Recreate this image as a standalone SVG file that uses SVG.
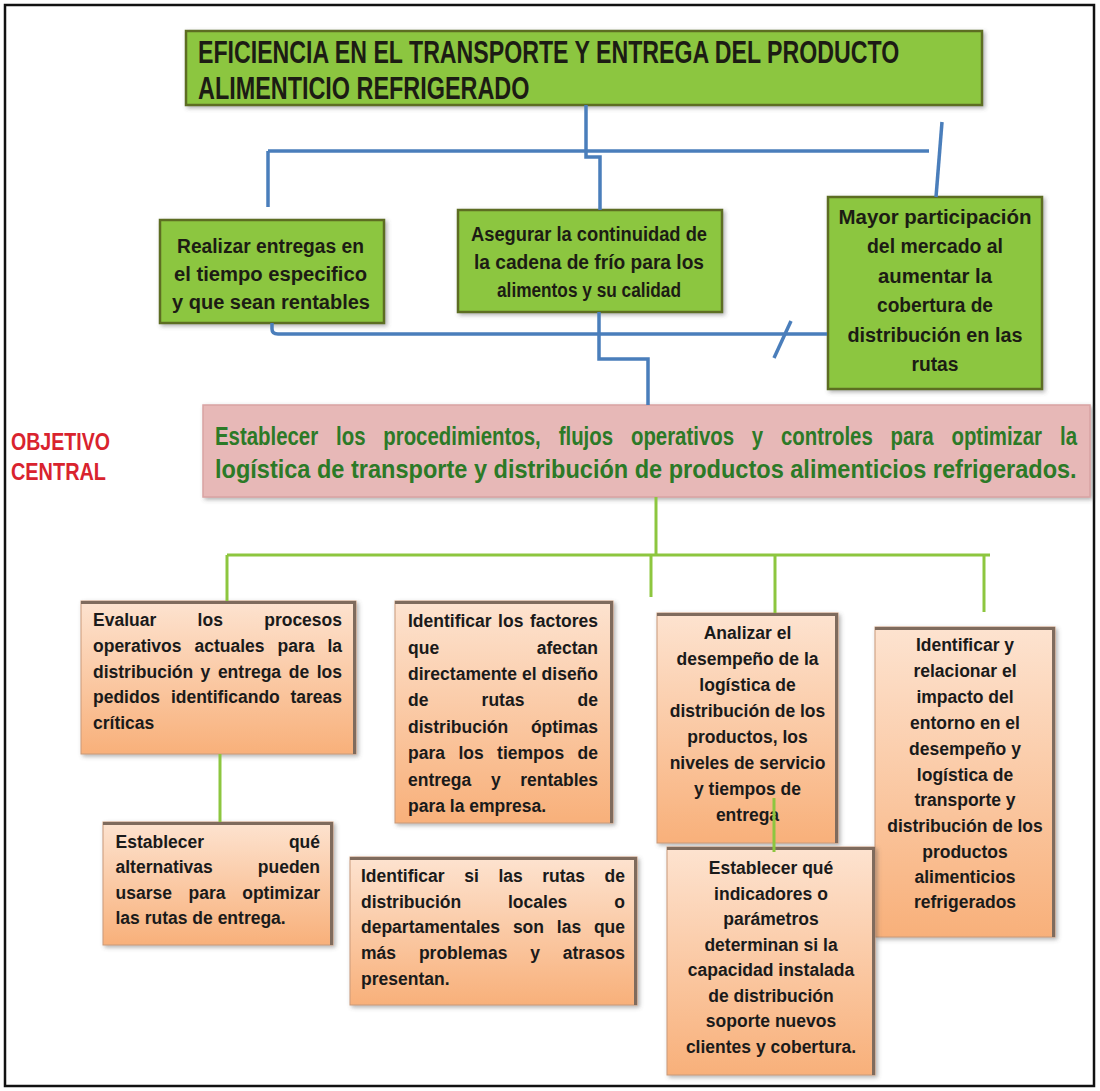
<svg xmlns="http://www.w3.org/2000/svg" width="1100" height="1091" viewBox="0 0 1100 1091">
  <style>
    .frame { fill: #ffffff; stroke: #111111; stroke-width: 2.5; }
    .gbox { fill: #8cc63f; stroke: #5d6d22; stroke-width: 2.5; }
    .pbox { fill: #e7b8b7; stroke: #d9a3a3; stroke-width: 1.5; }
    .obox { fill: url(#orangeFill); stroke: #c99a7a; stroke-width: 1; }
    .bevel { fill: none; stroke: #7f6b5d; stroke-width: 3; }
    .blue { fill: none; stroke: #4a7ebb; stroke-width: 3.5; stroke-linejoin: miter; }
    .green { fill: none; stroke: #8dc63f; stroke-width: 3; }
    .t-top { font-family: "Liberation Sans", Arial, sans-serif; font-weight: bold; font-size: 31px; fill: #1c1c14; }
    .t-g { font-family: "Liberation Sans", Arial, sans-serif; font-weight: bold; font-size: 20px; fill: #1c1c14; }
    .t-pink { font-family: "Liberation Sans", Arial, sans-serif; font-weight: bold; font-size: 25px; fill: #2c7a27; }
    .t-red { font-family: "Liberation Sans", Arial, sans-serif; font-weight: bold; font-size: 23px; fill: #d9232e; }
    .t-o { font-family: "Liberation Sans", Arial, sans-serif; font-weight: bold; font-size: 17.5px; fill: #1a1a1a; }
    .mid { text-anchor: middle; }
  </style>
  <defs>
    <linearGradient id="orangeFill" x1="0" y1="0" x2="0" y2="1">
      <stop offset="0" stop-color="#fde3d0"/>
      <stop offset="1" stop-color="#f8b07a"/>
    </linearGradient>
    <filter id="shadow" x="-5%" y="-5%" width="112%" height="115%">
      <feDropShadow dx="2" dy="2" stdDeviation="2" flood-color="#555555" flood-opacity="0.45"/>
    </filter>
  </defs>

  <!-- page frame -->
  <rect class="frame" x="5" y="5" width="1089" height="1081"/>

  <!-- headline, set in a horizontally condensed face -->
  <g id="n-top">
    <rect class="gbox" x="186" y="31" width="796" height="74" filter="url(#shadow)"/>
    <text class="t-top" transform="translate(198,63) scale(0.747,1)" x="0" y="0">EFICIENCIA EN EL TRANSPORTE Y ENTREGA DEL PRODUCTO</text>
    <text class="t-top" transform="translate(198,99) scale(0.755,1)" x="0" y="0">ALIMENTICIO REFRIGERADO</text>
  </g>

  <!-- green goals -->
  <g id="n-goal-left">
    <rect class="gbox" x="160" y="220" width="224" height="103" filter="url(#shadow)"/>
    <text class="t-g" x="177" y="253" textLength="187" lengthAdjust="spacingAndGlyphs">Realizar entregas en</text>
    <text class="t-g" x="174" y="281" textLength="193" lengthAdjust="spacingAndGlyphs">el tiempo especifico</text>
    <text class="t-g" x="172" y="309" textLength="198" lengthAdjust="spacingAndGlyphs">y que sean rentables</text>
  </g>
  <g id="n-goal-mid">
    <rect class="gbox" x="458" y="210" width="264" height="102" filter="url(#shadow)"/>
    <text class="t-g" x="471" y="241" textLength="236" lengthAdjust="spacingAndGlyphs">Asegurar la continuidad de</text>
    <text class="t-g" x="474" y="269" textLength="230" lengthAdjust="spacingAndGlyphs">la cadena de frío para los</text>
    <text class="t-g" x="497" y="297" textLength="184" lengthAdjust="spacingAndGlyphs">alimentos y su calidad</text>
  </g>
  <g id="n-goal-right">
    <rect class="gbox" x="828" y="197" width="214" height="192" filter="url(#shadow)"/>
    <text class="t-g" x="838.5" y="224" textLength="193" lengthAdjust="spacingAndGlyphs">Mayor participación</text>
    <text class="t-g" x="867" y="253" textLength="136" lengthAdjust="spacingAndGlyphs">del mercado al</text>
    <text class="t-g" x="878" y="283" textLength="114" lengthAdjust="spacingAndGlyphs">aumentar la</text>
    <text class="t-g" x="877" y="312" textLength="116" lengthAdjust="spacingAndGlyphs">cobertura de</text>
    <text class="t-g" x="847.5" y="342" textLength="175" lengthAdjust="spacingAndGlyphs">distribución en las</text>
    <text class="t-g" x="911.5" y="371" textLength="47" lengthAdjust="spacingAndGlyphs">rutas</text>
  </g>

  <!-- central objective -->
  <g id="n-central">
    <text class="t-red" x="11" y="450" textLength="99" lengthAdjust="spacingAndGlyphs">OBJETIVO</text>
    <text class="t-red" x="11" y="480" textLength="95" lengthAdjust="spacingAndGlyphs">CENTRAL</text>
    <rect class="pbox" x="203" y="405" width="887" height="92" filter="url(#shadow)"/>
    <!-- justified first line: word starts are given in the condensed (x / 0.816) space -->
    <text class="t-pink" transform="scale(0.816,1)" y="445"><tspan x="263.5">Establecer</tspan> <tspan x="411.8">los</tspan> <tspan x="469.7">procedimientos,</tspan> <tspan x="684.7">flujos</tspan> <tspan x="773.2">operativos</tspan> <tspan x="921.4">y</tspan> <tspan x="957.1">controles</tspan> <tspan x="1091.4">para</tspan> <tspan x="1166">optimizar</tspan> <tspan x="1299">la</tspan></text>
    <text class="t-pink" transform="translate(215,478) scale(0.942,1)" x="0" y="0">logística de transporte y distribución de productos alimenticios refrigerados.</text>
  </g>

  <!-- specific objectives -->
  <g id="n-eval">
    <rect class="obox" x="81" y="601" width="275" height="153" filter="url(#shadow)"/>
    <path class="bevel" d="M81,602.5 H354.5 V754"/>
    <text class="t-o" y="626"><tspan x="93">Evaluar</tspan> <tspan x="197.6">los</tspan> <tspan x="264.2">procesos</tspan></text>
    <text class="t-o" y="652"><tspan x="93">operativos</tspan> <tspan x="194.5">actuales</tspan> <tspan x="277.5">para</tspan> <tspan x="327.4">la</tspan></text>
    <text class="t-o" y="678"><tspan x="93">distribución</tspan> <tspan x="200.6">y</tspan> <tspan x="217.9">entrega</tspan> <tspan x="288.7">de</tspan> <tspan x="316.7">los</tspan></text>
    <text class="t-o" y="703"><tspan x="93">pedidos</tspan> <tspan x="170.9">identificando</tspan> <tspan x="290.4">tareas</tspan></text>
    <text class="t-o" x="93" y="729">críticas</text>
  </g>

  <g id="n-factores">
    <rect class="obox" x="395" y="601" width="218" height="222" filter="url(#shadow)"/>
    <path class="bevel" d="M395,602.5 H611.5 V823"/>
    <text class="t-o" y="627"><tspan x="408">Identificar</tspan> <tspan x="498.1">los</tspan> <tspan x="529.9">factores</tspan></text>
    <text class="t-o" y="654"><tspan x="408">que</tspan> <tspan x="536.7">afectan</tspan></text>
    <text class="t-o" y="680"><tspan x="408">directamente</tspan> <tspan x="522">el</tspan> <tspan x="541.6">diseño</tspan></text>
    <text class="t-o" y="706"><tspan x="408">de</tspan> <tspan x="481.6">rutas</tspan> <tspan x="577.6">de</tspan></text>
    <text class="t-o" y="733"><tspan x="408">distribución</tspan> <tspan x="530.9">óptimas</tspan></text>
    <text class="t-o" y="759"><tspan x="408">para</tspan> <tspan x="458.4">los</tspan> <tspan x="497.1">tiempos</tspan> <tspan x="577.6">de</tspan></text>
    <text class="t-o" y="786"><tspan x="408">entrega</tspan> <tspan x="490.9">y</tspan> <tspan x="520.2">rentables</tspan></text>
    <text class="t-o" x="408" y="812">para la empresa.</text>
  </g>

  <g id="n-analizar">
    <rect class="obox" x="657" y="613" width="181" height="230" filter="url(#shadow)"/>
    <path class="bevel" d="M657,614.5 H836.5 V843"/>
    <text class="t-o mid" x="747.5" y="639">Analizar el</text>
    <text class="t-o mid" x="747.5" y="665">desempeño de la</text>
    <text class="t-o mid" x="747.5" y="691">logística de</text>
    <text class="t-o mid" x="747.5" y="717">distribución de los</text>
    <text class="t-o mid" x="747.5" y="743">productos, los</text>
    <text class="t-o mid" x="747.5" y="769">niveles de servicio</text>
    <text class="t-o mid" x="747.5" y="795">y tiempos de</text>
    <text class="t-o mid" x="747.5" y="821">entrega</text>
  </g>

  <g id="n-entorno">
    <rect class="obox" x="875" y="627" width="180" height="310" filter="url(#shadow)"/>
    <path class="bevel" d="M875,628.5 H1053.5 V937"/>
    <text class="t-o mid" x="965" y="651">Identificar y</text>
    <text class="t-o mid" x="965" y="677">relacionar el</text>
    <text class="t-o mid" x="965" y="703">impacto del</text>
    <text class="t-o mid" x="965" y="729">entorno en el</text>
    <text class="t-o mid" x="965" y="755">desempeño y</text>
    <text class="t-o mid" x="965" y="781">logística de</text>
    <text class="t-o mid" x="965" y="806">transporte y</text>
    <text class="t-o mid" x="965" y="832">distribución de los</text>
    <text class="t-o mid" x="965" y="858">productos</text>
    <text class="t-o mid" x="965" y="883">alimenticios</text>
    <text class="t-o mid" x="965" y="908">refrigerados</text>
  </g>

  <g id="n-alternativas">
    <rect class="obox" x="103" y="822" width="230" height="123" filter="url(#shadow)"/>
    <path class="bevel" d="M103,823.5 H331.5 V945"/>
    <text class="t-o" y="848"><tspan x="115.5">Establecer</tspan> <tspan x="288.9">qué</tspan></text>
    <text class="t-o" y="873"><tspan x="115.5">alternativas</tspan> <tspan x="257.8">pueden</tspan></text>
    <text class="t-o" y="899"><tspan x="115.5">usarse</tspan> <tspan x="188.5">para</tspan> <tspan x="242.2">optimizar</tspan></text>
    <text class="t-o" x="115.5" y="924">las rutas de entrega.</text>
  </g>

  <g id="n-rutas">
    <rect class="obox" x="350" y="857" width="287" height="148" filter="url(#shadow)"/>
    <path class="bevel" d="M350,858.5 H635.5 V1005"/>
    <text class="t-o" y="882"><tspan x="361">Identificar</tspan> <tspan x="464.2">si</tspan> <tspan x="498.4">las</tspan> <tspan x="542.3">rutas</tspan> <tspan x="604.6">de</tspan></text>
    <text class="t-o" y="908"><tspan x="361">distribución</tspan> <tspan x="508">locales</tspan> <tspan x="614.3">o</tspan></text>
    <text class="t-o" y="933"><tspan x="361">departamentales</tspan> <tspan x="512.9">son</tspan> <tspan x="556.8">las</tspan> <tspan x="593.9">que</tspan></text>
    <text class="t-o" y="959"><tspan x="361">más</tspan> <tspan x="418.9">problemas</tspan> <tspan x="530.3">y</tspan> <tspan x="562.8">atrasos</tspan></text>
    <text class="t-o" x="361" y="985">presentan.</text>
  </g>

  <g id="n-indicadores">
    <rect class="obox" x="667" y="847" width="208" height="228" filter="url(#shadow)"/>
    <path class="bevel" d="M667,848.5 H873.5 V1075"/>
    <text class="t-o mid" x="771" y="874">Establecer qué</text>
    <text class="t-o mid" x="771" y="900">indicadores o</text>
    <text class="t-o mid" x="771" y="925">parámetros</text>
    <text class="t-o mid" x="771" y="951">determinan si la</text>
    <text class="t-o mid" x="771" y="976">capacidad instalada</text>
    <text class="t-o mid" x="771" y="1002">de distribución</text>
    <text class="t-o mid" x="771" y="1027">soporte nuevos</text>
    <text class="t-o mid" x="771" y="1053">clientes y cobertura.</text>
  </g>

  <!-- connectors -->
  <g id="connectors">
    <path class="blue" d="M586,105 V151"/>
    <path class="blue" d="M268,151 H929"/>
    <path class="blue" d="M268,151 V207"/>
    <path class="blue" d="M586,151 V157 H600 V210"/>
    <path class="blue" d="M942,122 L936,197"/>
    <path class="blue" d="M272,323 V329 Q272,334 278,334 H827"/>
    <path class="blue" d="M791,321 L774,358"/>
    <path class="blue" d="M599,312 V359 H648 V405"/>

    <path class="green" d="M656,497 V555"/>
    <path class="green" d="M227,555 H990"/>
    <path class="green" d="M227,555 V601"/>
    <path class="green" d="M651,555 V597"/>
    <path class="green" d="M775,555 V613"/>
    <path class="green" d="M984,555 V612"/>
    <path class="green" d="M220,754 V822"/>
    <path class="green" d="M774,798 V852"/>
  </g>
</svg>
